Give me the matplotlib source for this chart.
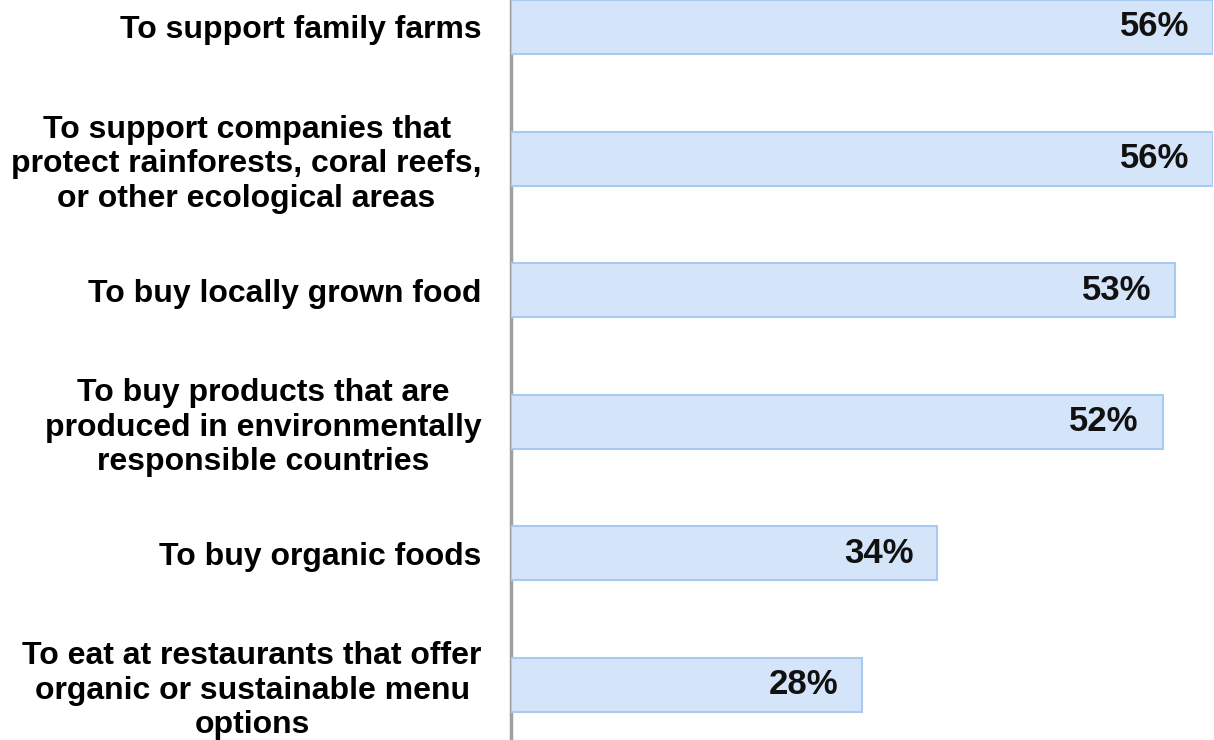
import matplotlib
matplotlib.use('Agg')
from matplotlib import pyplot, rc

rc('font', family=['Liberation Sans', 'DejaVu Sans'], weight='bold')

categories = [
    'To support family farms',
    'To support companies that\nprotect rainforests, coral reefs,\nor other ecological areas',
    'To buy locally grown food',
    'To buy products that are\nproduced in environmentally\nresponsible countries',
    'To buy organic foods',
    'To eat at restaurants that offer\norganic or sustainable menu\noptions',
]
values = [56, 56, 53, 52, 34, 28]

figure = pyplot.figure(figsize=(12.14, 7.4), dpi=100)
plot = figure.add_axes([511 / 1214, 0, (1213 - 511) / 1214, 1])

ypos = list(range(len(values)))
plot.barh(ypos, values, height=0.41, color='#d5e5f9', edgecolor='#a9c9ef',
          linewidth=1.5, zorder=3)

for y, v in zip(ypos, values):
    plot.annotate('{}%'.format(v), (v, y), xytext=(-24, 0),
                  textcoords='offset pixels', ha='right', va='center',
                  fontsize=25, fontweight='bold', color='#111111', zorder=4)

plot.set_xlim(0, 56)
plot.set_ylim(5.418, -0.205)
plot.set_xticks([])
plot.set_yticks(ypos)
plot.set_yticklabels(categories, fontsize=23, fontweight='bold')
for label in plot.get_yticklabels():
    label.set_multialignment('center')
plot.tick_params(axis='y', length=0, pad=21)

for side in ('top', 'right', 'bottom'):
    plot.spines[side].set_visible(False)
plot.spines['left'].set_color('#a0a0a0')
plot.spines['left'].set_linewidth(2.5)
plot.spines['left'].set_zorder(2)

figure.savefig('out.png', dpi=100)
